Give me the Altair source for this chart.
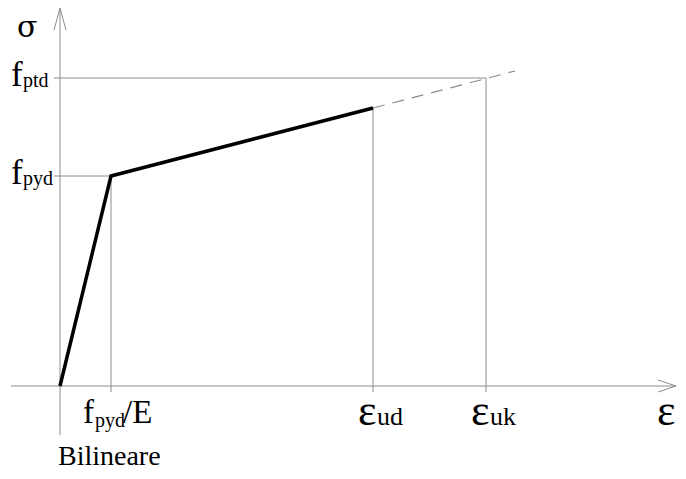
import altair as alt
import pandas as pd

# --- values (strain / stress in drawing units) ---
curve_eps = [0, 51, 313]          # bilinear design curve
curve_sig = [0, 210, 278]
ext_eps = [313, 455]              # dashed extension of the hardening branch
ext_sig = [278, 315]
f_pyd = 210
f_ptd = 308
eps_yd = 51
eps_ud = 313
eps_uk = 426
x_axis = [-49, 616]
y_axis = [-49, 378]

XS = alt.Scale(domain=[-52, 618], nice=False, zero=False)
YS = alt.Scale(domain=[-85, 378], nice=False, zero=False)

GRAY = "#8c8c8c"

def seg(rows):
    return pd.DataFrame(rows, columns=["x", "y", "x2", "y2"])

def rules(df, color=GRAY, width=1.0, dash=None):
    kw = dict(color=color, strokeWidth=width)
    if dash:
        kw["strokeDash"] = dash
    return alt.Chart(df).mark_rule(**kw).encode(
        x=alt.X("x:Q", scale=XS, axis=None),
        y=alt.Y("y:Q", scale=YS, axis=None),
        x2="x2:Q", y2="y2:Q")

axes = seg([
    [x_axis[0], 0, x_axis[1], 0],
    [0, y_axis[0], 0, y_axis[1]],
    # arrow heads
    [x_axis[1] - 18, 6, x_axis[1], 0],
    [x_axis[1] - 18, -6, x_axis[1], 0],
    [-6, y_axis[1] - 22, 0, y_axis[1]],
    [6, y_axis[1] - 22, 0, y_axis[1]],
])

guides = seg([
    [-6, f_ptd, eps_uk, f_ptd],
    [-6, f_pyd, eps_yd, f_pyd],
    [eps_yd, -6, eps_yd, f_pyd],
    [eps_ud, -6, eps_ud, curve_sig[2]],
    [eps_uk, -6, eps_uk, f_ptd],
])

curve_df = pd.DataFrame({"x": curve_eps, "y": curve_sig, "o": range(len(curve_eps))})
ext_df = pd.DataFrame({"x": ext_eps, "y": ext_sig, "o": range(len(ext_eps))})

curve = alt.Chart(curve_df).mark_line(color="black", strokeWidth=3.5, strokeJoin="miter").encode(
    x=alt.X("x:Q", scale=XS, axis=None), y=alt.Y("y:Q", scale=YS, axis=None), order="o:O")
ext = alt.Chart(ext_df).mark_line(color=GRAY, strokeWidth=1.2, strokeDash=[12, 8]).encode(
    x=alt.X("x:Q", scale=XS, axis=None), y=alt.Y("y:Q", scale=YS, axis=None), order="o:O")

FONT = "Liberation Serif"

def txt(df, size, dx=0, dy=0, xval=None, yval=None, font=FONT):
    m = alt.Chart(df).mark_text(font=font, fontSize=size, align="left", baseline="alphabetic",
                                dx=dx, dy=dy, color="black")
    enc = {"text": "t:N"}
    enc["x"] = alt.value(xval) if xval is not None else alt.X("x:Q", scale=XS, axis=None)
    enc["y"] = alt.value(yval) if yval is not None else alt.Y("y:Q", scale=YS, axis=None)
    return m.encode(**enc)

# y-axis labels
ylab_main = pd.DataFrame({"y": [f_pyd, f_ptd], "t": ["f", "f"]})
ylab_sub = pd.DataFrame({"y": [f_pyd, f_ptd], "t": ["pyd", "ptd"]})
# x-axis labels
xlab_f = pd.DataFrame({"x": [eps_yd], "y": [0], "t": ["f"]})
xlab_fsub = pd.DataFrame({"x": [eps_yd], "y": [0], "t": ["pyd"]})
xlab_fE = pd.DataFrame({"x": [eps_yd], "y": [0], "t": ["/E"]})
xlab_eps = pd.DataFrame({"x": [eps_ud, eps_uk], "y": [0, 0], "t": ["ε", "ε"]})
xlab_epssub = pd.DataFrame({"x": [eps_ud, eps_uk], "y": [0, 0], "t": ["ud", "uk"]})
sigma_df = pd.DataFrame({"t": ["σ"]})
eps_df = pd.DataFrame({"t": ["ε"]})
title_df = pd.DataFrame({"t": ["Bilineare"]})

layers = [
    rules(axes),
    rules(guides),
    ext,
    curve,
    txt(ylab_main, 35, dy=8, xval=3),
    txt(ylab_sub, 20, dy=9, xval=15),
    txt(xlab_f, 33, dx=-28, dy=37),
    txt(xlab_fsub, 20, dx=-16, dy=41),
    txt(xlab_fE, 33, dx=12, dy=37),
    txt(xlab_eps, 44, dx=-15, dy=39),
    txt(xlab_epssub, 26, dx=4, dy=39),
    txt(sigma_df, 30, xval=9, yval=29, font="DejaVu Serif"),
    txt(eps_df, 44, xval=649, yval=417),
    txt(title_df, 28, xval=50, yval=457),
]

chart = alt.layer(*layers).properties(
    width=670, height=463, padding=0,
    autosize=alt.AutoSizeParams(type="none"),
).configure_view(stroke=None)

chart.save("out.html", embed_options={"renderer": "svg", "actions": False})
